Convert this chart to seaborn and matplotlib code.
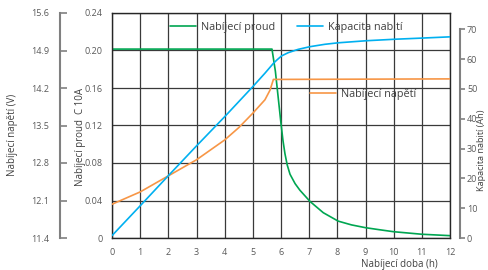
import matplotlib
matplotlib.use("Agg")
import matplotlib.pyplot as plt
from matplotlib.legend import Legend
from matplotlib.lines import Line2D
import seaborn as sns
import pandas as pd

# ---- data ----
hours_current = [0, 5.68, 5.80, 5.90, 6.00, 6.07, 6.14, 6.22, 6.32, 6.50, 6.67, 7.03, 7.50, 8.03, 8.50, 9.00, 9.50, 10.00, 11.00, 12.00]
current = [0.2015, 0.2015, 0.178, 0.150, 0.122, 0.104, 0.090, 0.078, 0.068, 0.058, 0.051, 0.039, 0.027, 0.018, 0.014, 0.011, 0.0088, 0.0067, 0.0040, 0.0025]

hours_voltage = [0, 1, 2, 3, 4, 4.5, 5, 5.43, 5.61, 5.73, 12]
voltage = [12.03, 12.26, 12.56, 12.86, 13.23, 13.46, 13.73, 13.98, 14.16, 14.36, 14.37]

hours_capacity = [0, 1, 2, 3, 4, 5, 5.43, 5.73, 5.85, 6.02, 6.26, 6.61, 7.03, 7.56, 8.03, 9.04, 10.05, 11.05, 12]
capacity = [0.8, 10.8, 20.9, 30.9, 40.7, 50.8, 55.3, 58.6, 59.7, 61.1, 62.2, 63.3, 64.2, 65.0, 65.5, 66.2, 66.7, 67.1, 67.5]

x_ticks = list(range(0, 13))
current_ticks = [0, 0.04, 0.08, 0.12, 0.16, 0.20, 0.24]
current_tick_labels = ["0", "0.04", "0.08", "0.12", "0.16", "0.20", "0.24"]
voltage_ticks = [11.4, 12.1, 12.8, 13.5, 14.2, 14.9, 15.6]
capacity_ticks = [0, 10, 20, 30, 40, 50, 60, 70]

label_current = "Nabíjecí proud"
label_capacity = "Kapacita nabití"
label_voltage = "Nabíjecí napětí"

df_i = pd.DataFrame({"h": hours_current, "v": current})
df_u = pd.DataFrame({"h": hours_voltage, "v": voltage})
df_c = pd.DataFrame({"h": hours_capacity, "v": capacity})

sns.set_style("white")
plt.rcParams["font.family"] = ["Open Sans", "DejaVu Sans"]

GREEN = "#00A651"
BLUE = "#00B0F0"
ORANGE = "#F79646"
TXT = "#595959"
SPINE = "#808080"

fig = plt.figure(figsize=(4.88, 2.70), dpi=100)
ax = fig.add_axes([112/488, 1-238/270, 338/488, 225/270])

# current axis (main)
ax.set_xlim(0, 12)
ax.set_ylim(0, 0.24)
ax.set_xticks(x_ticks)
ax.set_yticks(current_ticks)
ax.set_yticklabels(current_tick_labels)
ax.grid(True, color="#3a3a3a", linewidth=0.9)
ax.set_axisbelow(True)
for s in ax.spines.values():
    s.set_color("#262626")
    s.set_linewidth(1.0)
ax.tick_params(axis="both", length=0, labelsize=6.5, colors=TXT)
ax.tick_params(axis="y", pad=7)
ax.tick_params(axis="x", pad=7)

# voltage axis (left, detached)
ax_v = ax.twinx()
ax_v.set_ylim(11.4, 15.6)
ax_v.yaxis.tick_left()
ax_v.spines["left"].set_visible(True)
ax_v.spines["left"].set_position(("axes", -52/338))
ax_v.spines["left"].set_color(SPINE)
ax_v.spines["left"].set_linewidth(1.5)
for k in ["right", "top", "bottom"]:
    ax_v.spines[k].set_visible(False)
ax_v.set_yticks(voltage_ticks)
ax_v.set_yticklabels([f"{t:.1f}" for t in voltage_ticks])
ax_v.tick_params(axis="y", direction="in", length=5, width=1.2, color=SPINE,
                 labelsize=6.5, labelcolor=TXT, pad=8)

# capacity axis (right, detached)
ax_c = ax.twinx()
ax_c.set_ylim(0, 75.5)
ax_c.spines["right"].set_position(("axes", 348/338))
ax_c.spines["right"].set_bounds(0, 70)
ax_c.spines["right"].set_color(SPINE)
ax_c.spines["right"].set_linewidth(1.5)
for k in ["left", "top", "bottom"]:
    ax_c.spines[k].set_visible(False)
ax_c.set_yticks(capacity_ticks)
ax_c.tick_params(axis="y", direction="out", length=3.5, width=1.2, color=SPINE,
                 labelsize=6.5, labelcolor=TXT, pad=1.5)

sns.lineplot(data=df_i, x="h", y="v", ax=ax, color=GREEN, linewidth=1.2, legend=False)
sns.lineplot(data=df_u, x="h", y="v", ax=ax_v, color=ORANGE, linewidth=1.2, legend=False)
sns.lineplot(data=df_c, x="h", y="v", ax=ax_c, color=BLUE, linewidth=1.2, legend=False)
for a in (ax, ax_v, ax_c):
    a.set_xlabel("")
    a.set_ylabel("")
ax.set_xlim(0, 12)

# legends placed like the reference annotations
def add_leg(color, text, x_px, y_px):
    h = Line2D([], [], color=color, linewidth=1.2)
    leg = Legend(ax_c, [h], [text], loc="center left",
                 bbox_to_anchor=(x_px/488, 1-y_px/270), bbox_transform=fig.transFigure,
                 frameon=False, fontsize=7.8, handlelength=2.4, handletextpad=0.45,
                 borderpad=0, borderaxespad=0, labelcolor="#404040")
    ax_c.add_artist(leg)

add_leg(GREEN, label_current, 170, 27.5)
add_leg(BLUE, label_capacity, 297, 27.5)
add_leg(ORANGE, label_voltage, 310, 94)

# axis titles
fig.text(13/488, 1-135/270, "Nabíjecí napětí (V)", rotation=90, ha="center", va="center",
         fontsize=7, color="#404040")
fig.text(80/488, 1-137/270, "Nabíjecí proud  C 10A", rotation=90, ha="center", va="center",
         fontsize=7, color="#404040")
fig.text(481.5/488, 1-150/270, "Kapacita nabití (Ah)", rotation=90, ha="center", va="center",
         fontsize=6.6, color="#404040")
fig.text(399/488, 1-264/270, "Nabíjecí doba (h)", ha="center", va="center",
         fontsize=7, color="#404040")

fig.savefig("out.png", dpi=100)
